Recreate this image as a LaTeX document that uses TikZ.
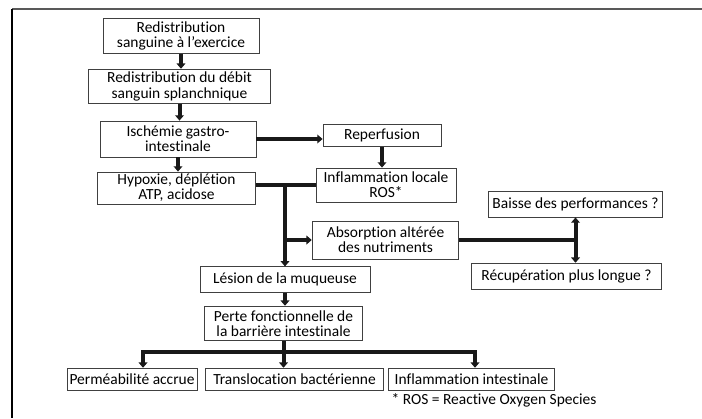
\documentclass[tikz,border=0pt]{standalone}
\usepackage{fontspec}
\setmainfont{Carlito}[Ligatures=NoCommon]
\usetikzlibrary{arrows.meta}
\begin{document}
\begin{tikzpicture}[x=0.75pt,y=-0.75pt,
box/.style={draw=black!75,line width=0.6pt,align=center,inner sep=1pt,font=\fontsize{11.6}{11.4}\selectfont},
lnk/.style={line width=3pt,black!90},
arr/.style={lnk,-{Triangle[length=4pt,width=6.5pt]}},
dbl/.style={lnk,{Triangle[length=4pt,width=6.5pt]}-{Triangle[length=4pt,width=6.5pt]}},
]
\useasboundingbox (0,0) rectangle (702,418);
\draw[black!65,line width=1.4pt] (12,9) -- (702,9);
\draw[black,line width=1pt] (12,9) -- (12,418);
\node [box,minimum width=117pt,minimum height=26pt] (rs) at (181,36) {Redistribution\\sanguine à l’exercice};
\node [box,minimum width=137pt,minimum height=26pt] (rd) at (179.5,86.5) {Redistribution du débit\\sanguin splanchnique};
\node [box,minimum width=117pt,minimum height=27pt] (isc) at (178,139) {Ischémie gastro-\\intestinale};
\node [box,minimum width=118pt,minimum height=24pt] (hyp) at (176.5,188) {Hypoxie, déplétion\\ATP, acidose};
\node [box,minimum width=88.5pt,minimum height=17pt] (rep) at (382,135.5) {Reperfusion};
\node [box,minimum width=105pt,minimum height=25.5pt] (infl) at (386,185) {Inflammation locale\\ROS*};
\node [box,minimum width=131pt,minimum height=19.5pt] (bai) at (575.5,204) {Baisse des performances ?};
\node [box,minimum width=110pt,minimum height=28.5pt] (abs) at (385.5,240) {Absorption altérée\\des nutriments};
\node [box,minimum width=142pt,minimum height=20pt] (rec) at (566.5,276.5) {Récupération plus longue ?};
\node [box,minimum width=127.5pt,minimum height=19pt] (les) at (285,279.5) {Lésion de la muqueuse};
\node [box,minimum width=118pt,minimum height=26pt] (perte) at (283.5,323.5) {Perte fonctionnelle de\\la barrière intestinale};
\node [box,minimum width=97.5pt,minimum height=17pt] (perm) at (132,379.5) {Perméabilité accrue};
\node [box,minimum width=133pt,minimum height=17pt] (trans) at (294.5,379.5) {Translocation bactérienne};
\node [box,minimum width=124pt,minimum height=17pt] (infi) at (471.5,379.5) {Inflammation intestinale};
\node [font=\fontsize{11.6}{11.4}\selectfont] (note) at (494,400) {* ROS = Reactive Oxygen Species};
\coordinate (bl) at (143,352);
\coordinate (br) at (475,352);
\draw[arr] (rs.south) -- (rs.south |- rd.north);
\draw[arr] (rd.south) -- (rd.south |- isc.north);
\draw[arr] (isc.south) -- (isc.south |- hyp.north);
\draw[arr] (isc.east) -- (rep.west |- isc.east);
\draw[arr] (rep.south) -- (rep.south |- infl.north);
\draw[lnk] (hyp.east |- infl.west) -- (infl.west);
\draw[arr] (les.north |- infl.west) -- (les.north);
\draw[arr] (les.north |- abs.west) -- (abs.west);
\draw[lnk] (abs.east) -- (bai.south |- abs.east);
\draw[dbl] (bai.south) -- (bai.south |- rec.north);
\draw[arr] (les.south) -- (les.south |- perte.north);
\draw[arr] (perte.south) -- (perte.south |- trans.north);
\draw[arr] (perte.south |- bl) -- (bl) -- (bl |- perm.north);
\draw[arr] (perte.south |- br) -- (br) -- (br |- infi.north);
\end{tikzpicture}
\end{document}
